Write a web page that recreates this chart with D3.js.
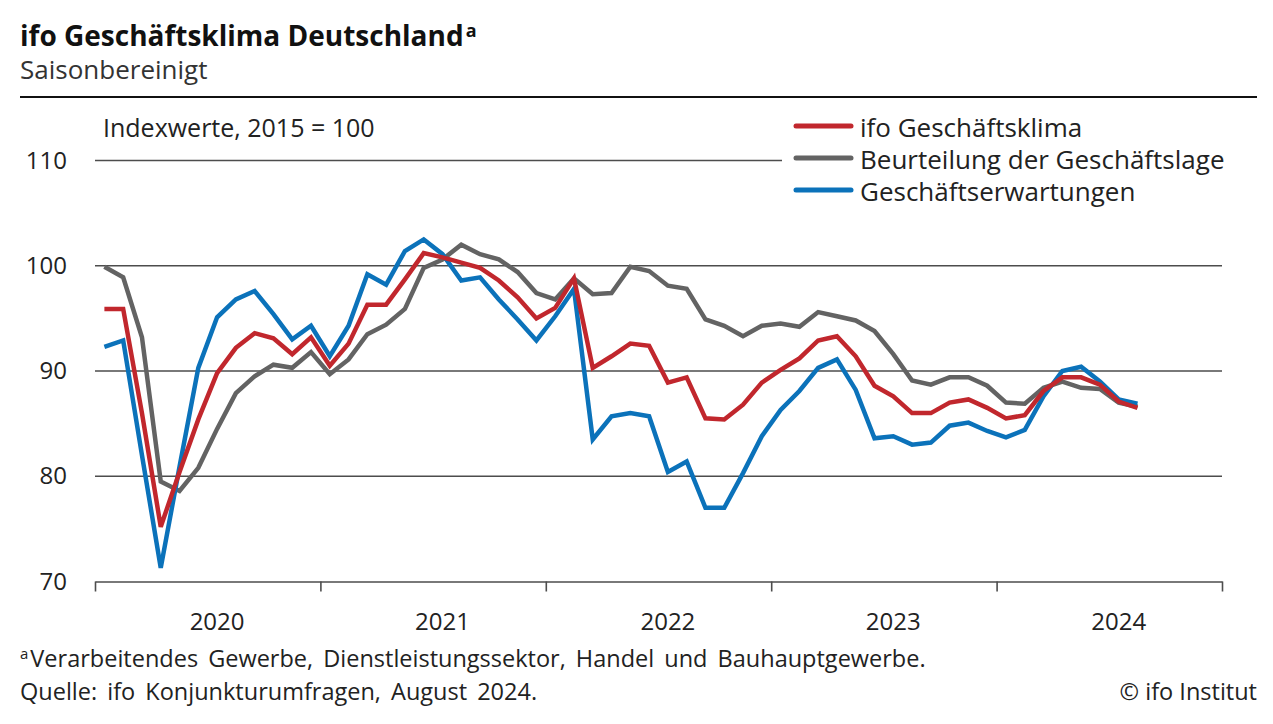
<!DOCTYPE html>
<html>
<head>
<meta charset="utf-8">
<script src="https://cdn.jsdelivr.net/npm/d3@7"></script>
<style>
  body { margin: 0; background: #fff; }
  svg { font-family: "Open Sans", Lato, sans-serif; }
</style>
</head>
<body>
<svg id="chart" width="1273" height="724"></svg>
<script>
// Monatswerte Jan 2020 - Aug 2024
const jahre = ["2020", "2021", "2022", "2023", "2024"];
const yTicks = [70, 80, 90, 100, 110];

const klima = [
  95.9, 95.9, 86.0, 75.2, 80.4, 85.4, 89.8, 92.2, 93.6, 93.1, 91.6, 93.2,
  90.5, 92.6, 96.3, 96.3, 98.7, 101.2, 100.8, 100.3, 99.8, 98.6, 97.0, 95.0,
  96.0, 98.8, 90.3, 91.4, 92.6, 92.4, 88.9, 89.4, 85.5, 85.4, 86.8, 88.9,
  90.1, 91.2, 92.9, 93.3, 91.4, 88.6, 87.6, 86.0, 86.0, 87.0, 87.3, 86.5,
  85.5, 85.8, 88.1, 89.4, 89.4, 88.7, 87.1, 86.5
];
const lage = [
  99.9, 98.9, 93.2, 79.5, 78.6, 80.8, 84.5, 87.9, 89.5, 90.6, 90.3, 91.8,
  89.7, 91.1, 93.5, 94.4, 95.9, 99.8, 100.6, 102.0, 101.1, 100.6, 99.4, 97.4,
  96.8, 98.8, 97.3, 97.4, 99.9, 99.5, 98.1, 97.8, 94.9, 94.3, 93.3, 94.3,
  94.5, 94.2, 95.6, 95.2, 94.8, 93.8, 91.6, 89.1, 88.7, 89.4, 89.4, 88.6,
  87.0, 86.9, 88.4, 89.0, 88.4, 88.3, 87.0, 86.6
];
const erwartungen = [
  92.3, 92.9, 82.0, 71.3, 80.9, 90.3, 95.1, 96.8, 97.6, 95.4, 93.0, 94.3,
  91.4, 94.3, 99.2, 98.2, 101.4, 102.5, 101.1, 98.6, 98.9, 96.8, 94.9, 92.9,
  95.2, 97.8, 83.5, 85.7, 86.0, 85.7, 80.4, 81.4, 77.0, 77.0, 80.3, 83.8,
  86.3, 88.1, 90.3, 91.1, 88.2, 83.6, 83.8, 83.0, 83.2, 84.8, 85.1, 84.3,
  83.7, 84.4, 87.6, 90.0, 90.4, 89.0, 87.3, 86.9
];

const reihen = [
  { name: "ifo Geschäftsklima", werte: klima, farbe: "#c1272d" },
  { name: "Beurteilung der Geschäftslage", werte: lage, farbe: "#636363" },
  { name: "Geschäftserwartungen", werte: erwartungen, farbe: "#0b72ba" }
];
// Zeichenreihenfolge: Lage unten, Klima oben
const zeichenFolge = [reihen[1], reihen[2], reihen[0]];

const svg = d3.select("#chart");
const links = 95, rechts = 1222;

const x = d3.scaleLinear().domain([0, jahre.length * 12]).range([links, rechts]);
const y = d3.scaleLinear().domain([70, 110]).range([581.5, 160.5]);

// Titel
const titel = svg.append("text")
  .attr("x", 20).attr("y", 46)
  .attr("font-size", 28).attr("font-weight", "bold").attr("fill", "#111")
  .text("ifo Geschäftsklima Deutschland");
titel.append("tspan").attr("font-size", 18).attr("dy", -9).attr("dx", 2).text("a");

svg.append("text")
  .attr("x", 20).attr("y", 79)
  .attr("font-size", 26).attr("fill", "#333")
  .text("Saisonbereinigt");

svg.append("line")
  .attr("x1", 20).attr("x2", 1257).attr("y1", 97).attr("y2", 97)
  .attr("stroke", "#111").attr("stroke-width", 2.2);

svg.append("text")
  .attr("x", 103).attr("y", 137)
  .attr("font-size", 25).attr("fill", "#222")
  .text("Indexwerte, 2015 = 100");

// Gitterlinien
svg.append("g").selectAll("line")
  .data(yTicks.filter(d => d > 70))
  .join("line")
  .attr("x1", links)
  .attr("x2", d => d === 110 ? 782 : rechts)
  .attr("y1", d => y(d)).attr("y2", d => y(d))
  .attr("stroke", "#4d4d4d").attr("stroke-width", 1.4);

// y-Beschriftung
const yAxis = svg.append("g")
  .attr("transform", "translate(67,0)")
  .call(d3.axisLeft(y).tickValues(yTicks).tickSize(0).tickPadding(0));
yAxis.select(".domain").remove();
yAxis.selectAll("text")
  .attr("font-family", "'Open Sans', sans-serif")
  .attr("font-size", 24).attr("fill", "#222");

// x-Achse mit Jahresstrichen
const xAxis = svg.append("g")
  .attr("transform", `translate(0,${y(70)})`)
  .call(d3.axisBottom(x)
    .tickValues(d3.range(0, jahre.length * 12 + 1, 12))
    .tickSize(10).tickSizeOuter(0).tickFormat(""));
xAxis.select(".domain").attr("stroke", "#4d4d4d").attr("stroke-width", 1.4);
xAxis.selectAll(".tick line").attr("stroke", "#4d4d4d").attr("stroke-width", 1.6);

svg.append("g").selectAll("text")
  .data(jahre)
  .join("text")
  .attr("x", (d, i) => x(i * 12 + 6.5))
  .attr("y", 630)
  .attr("text-anchor", "middle")
  .attr("font-size", 24).attr("fill", "#222")
  .text(d => d);

// Linien
const linie = d3.line()
  .x((d, i) => x(i + 0.5))
  .y(d => y(d));

svg.append("g").selectAll("path")
  .data(zeichenFolge)
  .join("path")
  .attr("d", d => linie(d.werte))
  .attr("fill", "none")
  .attr("stroke", d => d.farbe)
  .attr("stroke-width", 4.5)
  .attr("stroke-linejoin", "miter");

// Legende
const legende = svg.append("g").selectAll("g")
  .data(reihen)
  .join("g")
  .attr("transform", (d, i) => `translate(796,${126 + i * 32})`);
legende.append("line")
  .attr("x1", 0).attr("x2", 55)
  .attr("stroke", d => d.farbe).attr("stroke-width", 5).attr("stroke-linecap", "round");
legende.append("text")
  .attr("x", 64).attr("y", 11)
  .attr("font-size", 26).attr("fill", "#222")
  .text(d => d.name);

// Fußnoten
const fuss = svg.append("text")
  .attr("x", 20).attr("y", 667)
  .attr("font-size", 23.5).attr("fill", "#222")
  .attr("word-spacing", 4);
fuss.append("tspan").attr("font-size", 15).attr("dy", -8).text("a");
fuss.append("tspan").attr("dy", 8).attr("dx", 2).text("Verarbeitendes Gewerbe, Dienstleistungssektor, Handel und Bauhauptgewerbe.");

svg.append("text")
  .attr("x", 20).attr("y", 700)
  .attr("font-size", 23.5).attr("fill", "#222")
  .attr("word-spacing", 4)
  .text("Quelle: ifo Konjunkturumfragen, August 2024.");

svg.append("text")
  .attr("x", 1257).attr("y", 700)
  .attr("text-anchor", "end")
  .attr("font-size", 23.5).attr("fill", "#222")
  .text("© ifo Institut");
</script>
</body>
</html>
